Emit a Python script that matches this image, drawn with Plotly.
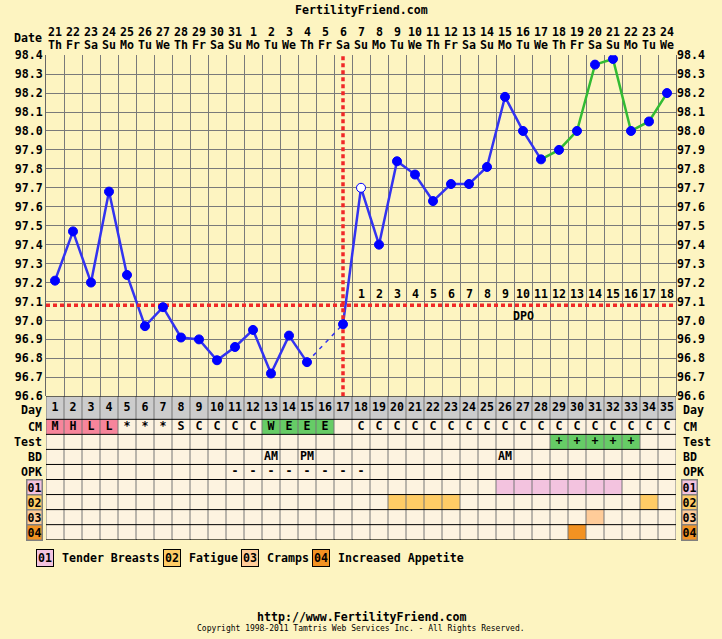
import plotly.graph_objects as go

W, H = 722, 639
FONT = "DejaVu Sans Mono"
# the photographed page shows the figure between y=8 and y=631
OUT_TOP, OUT_H = 8, 623

# ---- data ----
days = list(range(1, 36))
dates = [21, 22, 23, 24, 25, 26, 27, 28, 29, 30, 31] + list(range(1, 25))
weekdays = (["Th", "Fr", "Sa", "Su", "Mo", "Tu", "We"] * 5)[:35]
temps = [97.21, 97.47, 97.20, 97.68, 97.24, 96.97, 97.07, 96.91, 96.90, 96.79,
         96.86, 96.95, 96.72, 96.92, 96.78, None, 96.98, 97.70, 97.40, 97.84,
         97.77, 97.63, 97.72, 97.72, 97.81, 98.18, 98.00, 97.85, 97.90, 98.00,
         98.35, 98.38, 98.00, 98.05, 98.20]
coverline = 97.08
ovulation_day = 17
green_from = 28
open_days = [18]

cm = ["M", "H", "L", "L", "*", "*", "*", "S", "C", "C", "C", "C", "W", "E", "E", "E", ""] + ["C"] * 18
test = [""] * 28 + ["+"] * 5 + [""] * 2
bd = {13: "AM", 15: "PM", 26: "AM"}
opk_days = list(range(11, 19))
symptoms = {
    "01": list(range(26, 33)),
    "02": [20, 21, 22, 23, 34],
    "03": [31],
    "04": [30],
}
symptom_names = {"01": "Tender Breasts", "02": "Fatigue", "03": "Cramps", "04": "Increased Appetite"}

row_names = ["Day", "CM", "Test", "BD", "OPK", "01", "02", "03", "04"]
row_heights = [23, 15, 15, 15, 15, 15, 15, 15, 15]

# ---- colours ----
page_bg = "#FDF4C1"
cell_bg = "#FDF3E0"
palette = [cell_bg, "#CCCCCC", "#F7859B", "#66CC66", "#F3C3DF", "#FFCC66", "#FFCC99", "#F29222"]
sym_code = {"01": 4, "02": 5, "03": 6, "04": 7}
cm_code = {"M": 2, "H": 2, "L": 2, "W": 3, "E": 3}

# ---- table matrix ----
z = [[1] * 35]
z.append([cm_code.get(c, 0) for c in cm])
z.append([3 if t else 0 for t in test])
z.append([0] * 35)
z.append([0] * 35)
for code in ["01", "02", "03", "04"]:
    z.append([sym_code[code] if d in symptoms[code] else 0 for d in days])

x_edges = [d - 0.5 for d in days] + [days[-1] + 0.5]
y_edges = [0]
for h in row_heights:
    y_edges.append(y_edges[-1] + h)
row_mid = [(a + b) / 2 for a, b in zip(y_edges[:-1], y_edges[1:])]

fig = go.Figure()

fig.add_trace(go.Heatmap(
    z=z, x=x_edges, y=y_edges, yaxis="y2",
    zmin=0, zmax=len(palette) - 1,
    colorscale=[[i / (len(palette) - 1), c] for i, c in enumerate(palette)],
    showscale=False, hoverinfo="skip",
))

# table grid
vx, vy = [], []
for e in x_edges:
    vx += [e, e, None]
    vy += [y_edges[0], y_edges[-1], None]
fig.add_trace(go.Scatter(x=vx, y=vy, yaxis="y2", mode="lines",
                         line=dict(color="#777777", width=1), hoverinfo="skip"))
hx, hy = [], []
for e in y_edges:
    hx += [x_edges[0], x_edges[-1], None]
    hy += [e, e, None]
fig.add_trace(go.Scatter(x=hx, y=hy, yaxis="y2", mode="lines",
                         line=dict(color="#000000", width=1), hoverinfo="skip"))

# table text
FS = 11.6
cell_font = dict(family=FONT, size=FS, color="black", weight="bold")
rows_text = [
    [str(d) for d in days],
    cm,
    test,
    [bd.get(d, "") for d in days],
    ["-" if d in opk_days else "" for d in days],
]
for r, texts in enumerate(rows_text):
    fig.add_trace(go.Scatter(x=days, y=[row_mid[r]] * 35, yaxis="y2", mode="text",
                             text=texts, textfont=cell_font, hoverinfo="skip"))

# ---- temperature lines ----
blue_line = dict(color="#3333F0", width=2.5)
solid_x, solid_y, dash_x, dash_y = [], [], [], []
prev = None
for d, t in zip(days, temps):
    if d > green_from or t is None:
        continue
    if prev is not None and d - prev[0] > 1:
        dash_x += [prev[0], d]
        dash_y += [prev[1], t]
        solid_x.append(None)
        solid_y.append(None)
    solid_x.append(d)
    solid_y.append(t)
    prev = (d, t)
fig.add_trace(go.Scatter(x=solid_x, y=solid_y, mode="lines", line=blue_line, hoverinfo="skip"))
fig.add_trace(go.Scatter(x=dash_x, y=dash_y, mode="lines",
                         line=dict(color="#3333F0", width=1.5, dash="4px,5px"), hoverinfo="skip"))
gx = [d for d in days if d >= green_from]
gy = [temps[d - 1] for d in gx]
fig.add_trace(go.Scatter(x=gx, y=gy, mode="lines", line=dict(color="#33BB33", width=2.5),
                         hoverinfo="skip"))

# coverline + ovulation line
red_dots = dict(color="#F02828", width=3.5, dash="4px,3px")
fig.add_trace(go.Scatter(x=[x_edges[0], x_edges[-1]], y=[coverline, coverline], mode="lines",
                         line=red_dots, hoverinfo="skip"))
fig.add_trace(go.Scatter(x=[ovulation_day, ovulation_day], y=[96.6, 98.4], mode="lines",
                         line=red_dots, hoverinfo="skip"))

# markers
mx = [d for d, t in zip(days, temps) if t is not None]
my = [t for t in temps if t is not None]
fig.add_trace(go.Scatter(
    x=mx, y=my, mode="markers", hoverinfo="skip",
    marker=dict(size=9, color=["white" if d in open_days else "#0000FF" for d in mx],
                line=dict(color="#0000FF", width=1)),
))

# invisible trace for right axis
fig.add_trace(go.Scatter(x=[days[0]], y=[coverline], yaxis="y3", mode="markers",
                         marker=dict(opacity=0), hoverinfo="skip"))


def py(p):
    # pixel row in the photographed picture -> paper coordinate
    return 1 - (p - OUT_TOP) / OUT_H


ann = []
bold = dict(family=FONT, size=FS, color="black", weight="bold")


def paper_text(text, x, y, anchor="center", **kw):
    ann.append(dict(text=text, x=x, y=py(y), xref="paper", yref="paper", xanchor=anchor,
                    yanchor="middle", showarrow=False, font=kw.pop("font", bold), **kw))


paper_text("FertilityFriend.com", 0.5, 11)
paper_text("Date", 44 / W, 39, anchor="right")
for d, dt, wd in zip(days, dates, weekdays):
    ann.append(dict(text=str(dt), x=d, y=py(33), xref="x", yref="paper", yanchor="middle",
                    showarrow=False, font=bold))
    ann.append(dict(text=wd, x=d, y=py(46), xref="x", yref="paper", yanchor="middle",
                    showarrow=False, font=bold))

# DPO labels
for i, d in enumerate([d for d in days if d > ovulation_day]):
    ann.append(dict(text=str(i + 1), x=d, y=coverline, xref="x", yref="y", yanchor="bottom",
                    yshift=2, showarrow=False, font=bold))
ann.append(dict(text="DPO", x=27, y=coverline, xref="x", yref="y", yanchor="top", yshift=-2,
                showarrow=False, font=bold))

# row labels both sides
for r, name in enumerate(row_names):
    for side in ("left", "right"):
        xpos = 44 / W if side == "left" else 681 / W
        anchor = "right" if side == "left" else "left"
        a = dict(text=name, x=xpos, y=row_mid[r], xref="paper", yref="y2", xanchor=anchor,
                 yanchor="middle", showarrow=False, font=bold)
        if name == "Day":
            a["yshift"] = -2
        if name in sym_code:
            a.update(bgcolor=palette[sym_code[name]], bordercolor="#808080", borderwidth=1.5,
                     borderpad=0, x=(43 if side == "left" else 681) / W)
        ann.append(a)

# symptom legend
lx = 36
for code in ["01", "02", "03", "04"]:
    paper_text(code, lx / W, 557, anchor="left", bgcolor=palette[sym_code[code]],
               bordercolor="black", borderwidth=1, borderpad=1)
    paper_text(symptom_names[code], (lx + 24) / W, 557, anchor="left")
    lx += 24 + len(symptom_names[code]) * 7 + 5

paper_text("http://www.FertilityFriend.com", 0.5, 616)
paper_text("Copyright 1998-2011 Tamtris Web Services Inc. - All Rights Reserved.", 0.5, 627.5,
           font=dict(family=FONT, size=8, color="black"))

temp_axis = dict(range=[96.6, 98.4], dtick=0.1, tick0=96.6, tickformat=".1f",
                 tickfont=bold, domain=[py(396), py(56)])

fig.update_layout(
    width=W, height=H, autosize=False,
    margin=dict(l=0, r=0, t=0, b=0),
    paper_bgcolor=page_bg, plot_bgcolor=page_bg,
    showlegend=False,
    xaxis=dict(domain=[46 / W, 676 / W], range=[x_edges[0], x_edges[-1]],
               tickvals=x_edges, showticklabels=False, showgrid=True,
               gridcolor="#7A7A7A", gridwidth=1, zeroline=False, ticks=""),
    yaxis=dict(**temp_axis, showgrid=True, gridcolor="#7A7A7A", zeroline=False,
               showline=True, linecolor="#666666", mirror=True, ticks=""),
    yaxis2=dict(domain=[py(539), py(396)], range=[y_edges[-1], y_edges[0]],
                showticklabels=False, showgrid=False, zeroline=False),
    yaxis3=dict(**temp_axis, overlaying="y", side="right", showgrid=False, zeroline=False,
                ticks=""),
    annotations=ann,
)

page_css = (
    "document.body.style.margin='0';"
    f"document.body.style.background='{page_bg}';"
)
fig.write_html("out.html", config={"displayModeBar": False}, post_script=page_css)
